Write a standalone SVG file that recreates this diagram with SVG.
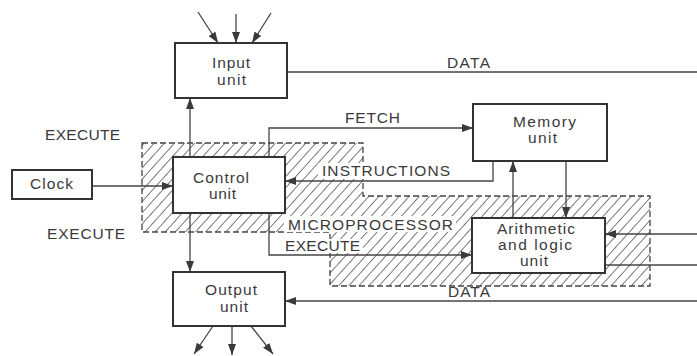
<svg xmlns="http://www.w3.org/2000/svg" width="697" height="356" viewBox="0 0 697 356">
<style>
.box{fill:#fff;stroke:#333;stroke-width:2}
.ln{fill:none;stroke:#444;stroke-width:1.3}
.t{font-family:"Liberation Sans",Arial,sans-serif;font-size:15.5px;fill:#3a3a3a}
.bg{fill:#fff}
.hatch{fill:url(#hp);stroke:#444;stroke-width:1.3;stroke-dasharray:6,3}
</style>
<defs>
<pattern id="hp" patternUnits="userSpaceOnUse" width="7.5" height="7.5" patternTransform="rotate(42)">
<line x1="0" y1="0" x2="0" y2="7.5" stroke="#333" stroke-width="1.3"/>
</pattern>
<marker id="ah" markerUnits="userSpaceOnUse" markerWidth="11" markerHeight="8" refX="11" refY="4" orient="auto">
<path d="M0,0 L11,4 L0,8 z" fill="#3a3a3a"/>
</marker>
</defs>
<rect width="697" height="356" fill="#fff"/>

<g id="microprocessor">
<polygon class="hatch" points="142,143 363,143 363,196 650,196 650,286 330,286 330,232 142,232"/>
<rect class="bg" x="318" y="163" width="136" height="16"/>
<rect class="bg" x="284" y="216" width="172" height="16"/>
<rect class="bg" x="282" y="239" width="81" height="14"/>
<text class="t" x="288" y="230" textLength="165" lengthAdjust="spacing">MICROPROCESSOR</text>
</g>

<g id="connectors">
<line class="ln" x1="198" y1="12" x2="218" y2="43" marker-end="url(#ah)"/>
<line class="ln" x1="236" y1="14" x2="236" y2="43" marker-end="url(#ah)"/>
<line class="ln" x1="271" y1="13" x2="252" y2="43" marker-end="url(#ah)"/>
<line class="ln" x1="190" y1="157" x2="190" y2="98" marker-end="url(#ah)"/>
<line class="ln" x1="190" y1="213" x2="190" y2="272" marker-end="url(#ah)"/>
<line class="ln" x1="92" y1="186" x2="173" y2="186" marker-end="url(#ah)"/>
<polyline class="ln" points="269,157 269,128 473,128" marker-end="url(#ah)"/>
<polyline class="ln" points="493,161 493,181 285,181" marker-end="url(#ah)"/>
<polyline class="ln" points="269,213 269,255 472,255" marker-end="url(#ah)"/>
<line class="ln" x1="513" y1="218" x2="513" y2="161" marker-end="url(#ah)"/>
<line class="ln" x1="566" y1="161" x2="566" y2="218" marker-end="url(#ah)"/>
<line class="ln" x1="697" y1="234" x2="605" y2="234" marker-end="url(#ah)"/>
<line class="ln" x1="605" y1="265" x2="697" y2="265"/>
<line class="ln" x1="287" y1="72" x2="697" y2="72"/>
<line class="ln" x1="697" y1="301" x2="285" y2="301" marker-end="url(#ah)"/>
<line class="ln" x1="213" y1="326" x2="194" y2="354" marker-end="url(#ah)"/>
<line class="ln" x1="232" y1="326" x2="232" y2="355" marker-end="url(#ah)"/>
<line class="ln" x1="251" y1="326" x2="273" y2="354" marker-end="url(#ah)"/>
</g>

<g id="labels">
<text class="t" x="45" y="140" textLength="75" lengthAdjust="spacing">EXECUTE</text>
<text class="t" x="47" y="239" textLength="78" lengthAdjust="spacing">EXECUTE</text>
<text class="t" x="345" y="123" textLength="55" lengthAdjust="spacing">FETCH</text>
<text class="t" x="322" y="176" textLength="128" lengthAdjust="spacing">INSTRUCTIONS</text>
<text class="t" x="285" y="251" textLength="75" lengthAdjust="spacing">EXECUTE</text>
<text class="t" x="447" y="68" textLength="43" lengthAdjust="spacing">DATA</text>
<text class="t" x="448" y="297" textLength="42" lengthAdjust="spacing">DATA</text>
</g>

<g id="input">
<rect class="box" x="175" y="43" width="112" height="55"/>
<text class="t" x="212" y="68" textLength="38" lengthAdjust="spacing">Input</text>
<text class="t" x="217" y="85" textLength="29" lengthAdjust="spacing">unit</text>
</g>

<g id="clock">
<rect class="box" x="12" y="170" width="80" height="29"/>
<text class="t" x="30" y="189" textLength="43" lengthAdjust="spacing">Clock</text>
</g>

<g id="control">
<rect class="box" x="173" y="157" width="112" height="56"/>
<text class="t" x="193" y="183" textLength="56" lengthAdjust="spacing">Control</text>
<text class="t" x="209" y="199" textLength="27" lengthAdjust="spacing">unit</text>
</g>

<g id="memory">
<rect class="box" x="473" y="104" width="134" height="57"/>
<text class="t" x="513" y="127" textLength="63" lengthAdjust="spacing">Memory</text>
<text class="t" x="528" y="143" textLength="29" lengthAdjust="spacing">unit</text>
</g>

<g id="alu">
<rect class="box" x="472" y="218" width="133" height="55"/>
<text class="t" x="497" y="234" textLength="78" lengthAdjust="spacing">Arithmetic</text>
<text class="t" x="498" y="250" textLength="74" lengthAdjust="spacing">and logic</text>
<text class="t" x="520" y="266" textLength="28" lengthAdjust="spacing">unit</text>
</g>

<g id="output">
<rect class="box" x="173" y="272" width="112" height="54"/>
<text class="t" x="205" y="295" textLength="52" lengthAdjust="spacing">Output</text>
<text class="t" x="220" y="312" textLength="28" lengthAdjust="spacing">unit</text>
</g>
</svg>
